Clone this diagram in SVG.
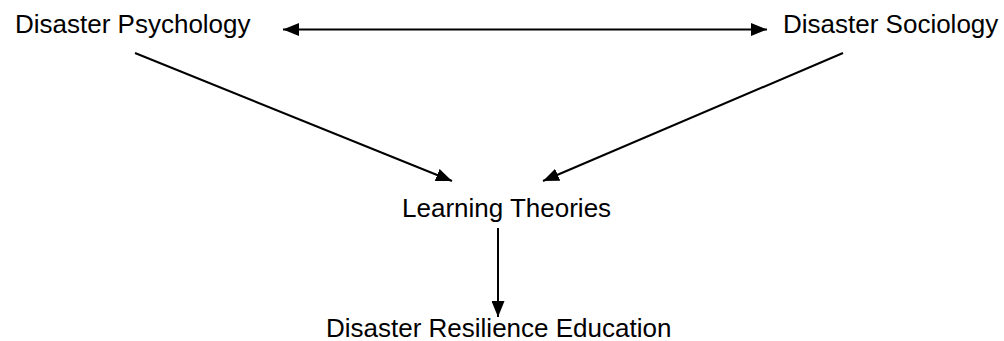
<svg xmlns="http://www.w3.org/2000/svg" width="1004" height="341" viewBox="0 0 1004 341">
<style>
text{font-family:"Liberation Sans",Arial,sans-serif;font-size:26px;fill:#000}
.c{stroke:#000;stroke-width:2;fill:none}
</style>
<defs>
<marker id="ah" markerUnits="userSpaceOnUse" markerWidth="17" markerHeight="13" refX="16" refY="6.5" orient="auto-start-reverse" viewBox="0 0 17 13">
<path d="M0,0 L16,6.5 L0,13 Z" fill="#000"/>
</marker>
</defs>
<rect width="1004" height="341" fill="#fff"/>
<g id="connectors">
<line class="c" x1="283" y1="29.5" x2="767" y2="29.5" marker-start="url(#ah)" marker-end="url(#ah)"/>
<line class="c" x1="135" y1="53" x2="452" y2="181" marker-end="url(#ah)"/>
<line class="c" x1="843" y1="53" x2="543" y2="181" marker-end="url(#ah)"/>
<line class="c" x1="498" y1="228" x2="498" y2="317" marker-end="url(#ah)"/>
</g>
<g id="psych"><text x="15" y="33">Disaster Psychology</text></g>
<g id="socio"><text x="783" y="33">Disaster Sociology</text></g>
<g id="learning"><text x="402" y="217">Learning Theories</text></g>
<g id="education"><text x="326" y="337">Disaster Resilience Education</text></g>
</svg>
